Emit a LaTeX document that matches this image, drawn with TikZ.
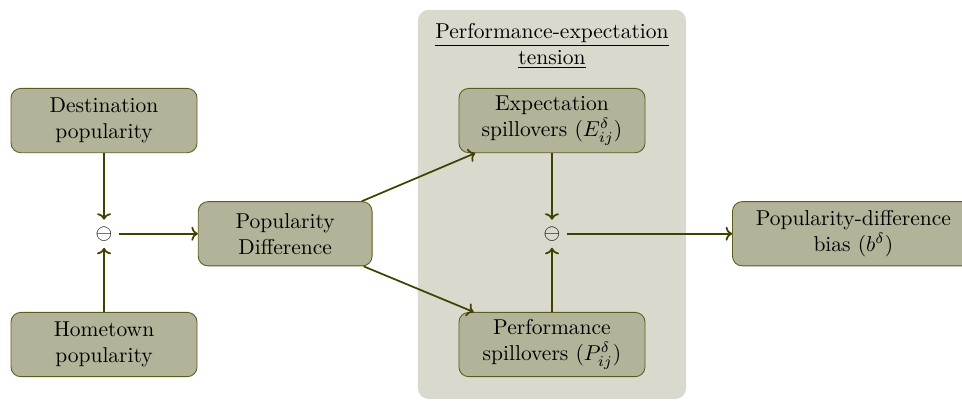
\documentclass[tikz,border=0pt]{standalone}
\usepackage{tikz}
\usetikzlibrary{arrows.meta,positioning,backgrounds}
\definecolor{olivedark}{HTML}{404000}
\definecolor{olivebox}{HTML}{B3B39A}
\definecolor{oliveline}{HTML}{5C5C1F}
\definecolor{panelgray}{HTML}{D9D9CD}

\begin{document}
\begin{tikzpicture}[font=\normalsize,stage/.style={draw=oliveline,fill=olivebox,rounded corners=4.5pt,minimum width=3.04cm,minimum height=1.05cm,align=center,inner sep=3pt},link/.style={-{To[length=3pt,width=6.5pt]},olivedark,thick},diffop/.style={inner sep=3pt}]
\useasboundingbox (-1.70,-2.73) rectangle (14.02,3.82);
\fill[panelgray,rounded corners=5pt] (5.13,-2.70) rectangle (9.51,3.66);
\node[align=center] (tension) at (7.32,3.07) {\underline{Performance-expectation}\\\underline{tension}};
\node[stage] (destpop) at (0,1.85) {Destination\\popularity};
\node[stage] (homepop) at (0,-1.81) {Hometown\\popularity};
\node[diffop] (minusA) at (0,0) {$\ominus$};
\node[stage,minimum width=2.84cm] (popdiff) at (2.96,0) {Popularity\\Difference};
\node[stage] (expspill) at (7.32,1.85) {Expectation\\spillovers ($E^{\delta}_{ij}$)};
\node[stage] (perfspill) at (7.32,-1.81) {Performance\\spillovers ($P^{\delta}_{ij}$)};
\node[diffop] (minusB) at (7.32,0) {$\ominus$};
\node[stage,minimum width=3.95cm] (bias) at (12.245,0) {Popularity-difference\\bias ($b^{\delta}$)};
\draw[link] (destpop) -- (minusA);
\draw[link] (homepop) -- (minusA);
\draw[link] (minusA) -- (popdiff);
\draw[link] (popdiff) -- (expspill);
\draw[link] (popdiff) -- (perfspill);
\draw[link] (expspill) -- (minusB);
\draw[link] (perfspill) -- (minusB);
\draw[link] (minusB) -- (bias);
\end{tikzpicture}
\end{document}
